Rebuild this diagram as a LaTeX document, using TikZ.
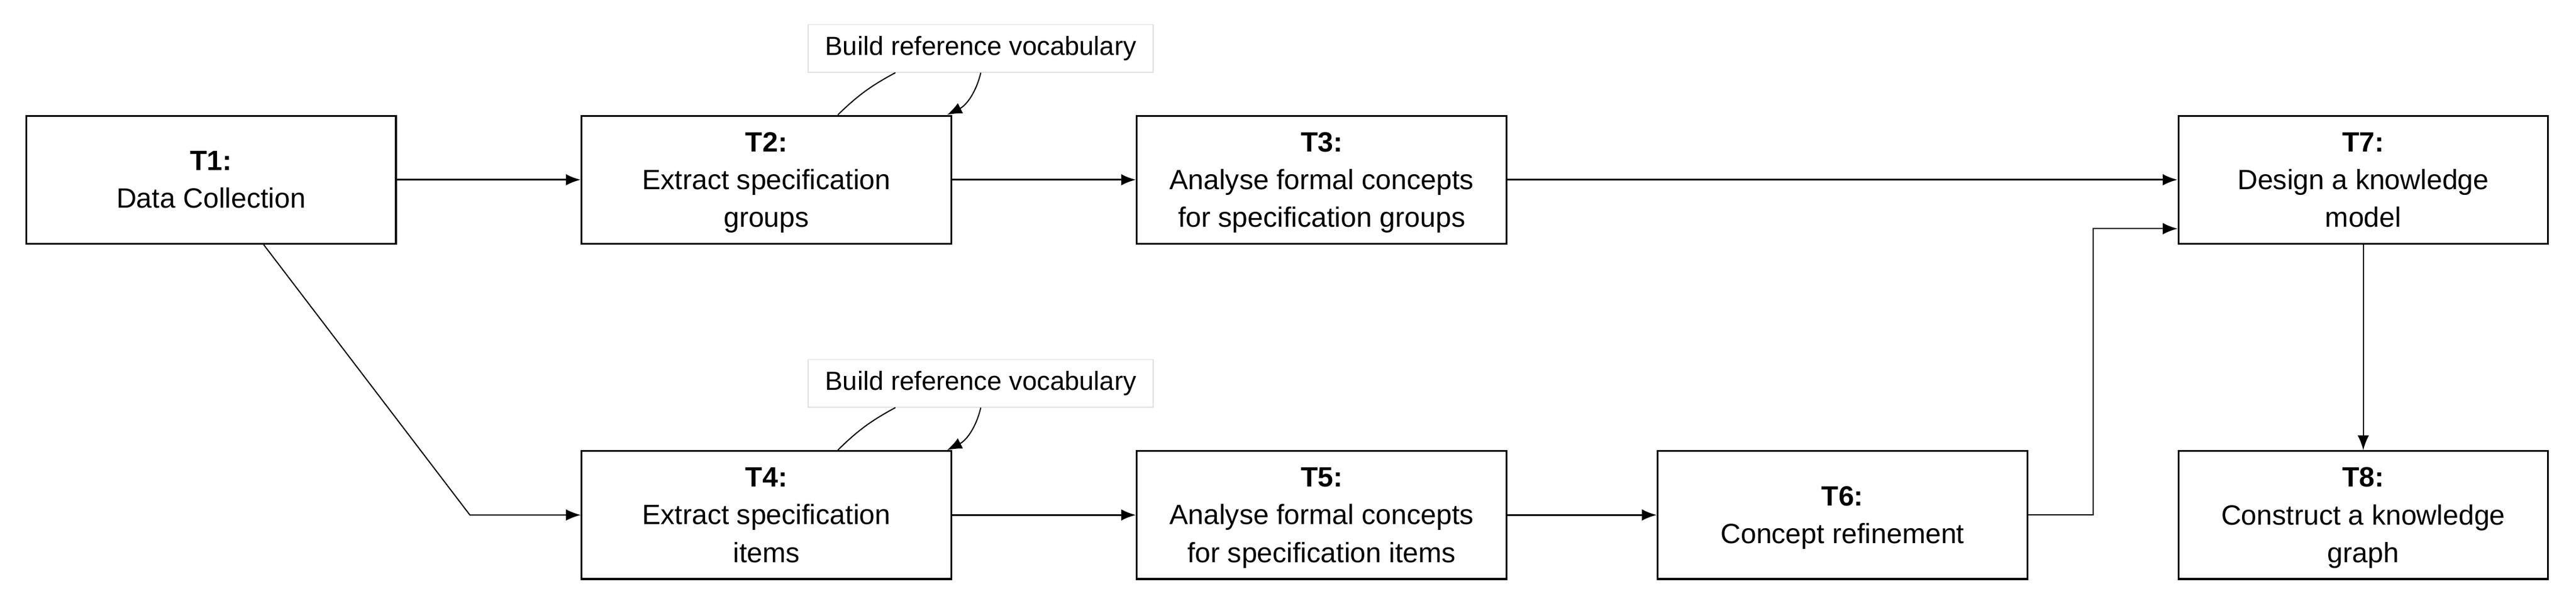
\documentclass[tikz,border=0pt]{standalone}
\usepackage{fontspec}
\setmainfont{Liberation Sans}
\usetikzlibrary{arrows.meta}
\tikzset{
  task/.style = {draw=black, line width=1.1pt, rectangle, align=center, minimum width=225pt, minimum height=78pt, inner sep=0pt, text depth=-3pt, font=\fontsize{17}{23}\selectfont},
  note/.style = {draw=black!12, line width=0.6pt, rectangle, inner sep=0pt, minimum width=210pt, minimum height=29pt, font=\fontsize{16}{18}\selectfont},
  flow/.style = {line width=1.1pt, -{Latex[length=9pt,width=7pt]}},
  link/.style = {line width=0.7pt, -{Latex[length=9pt,width=7pt]}},
}
\begin{document}
\begin{tikzpicture}[x=1pt,y=-1pt]
\useasboundingbox (0,0) rectangle (1568,366);
% top row
\node [task] (T1) at (128.5,109.5) {\textbf{T1:}\\Data Collection};
\node [task] (T2) at (466.5,109.5) {\textbf{T2:}\\Extract specification\\groups};
\node [task] (T3) at (804.5,109.5) {\textbf{T3:}\\Analyse formal concepts\\for specification groups};
\node [task] (T7) at (1438.5,109.5) {\textbf{T7:}\\Design a knowledge\\model};
% bottom row
\node [task] (T4) at (466.5,313.7) {\textbf{T4:}\\Extract specification\\items};
\node [task] (T5) at (804.5,313.7) {\textbf{T5:}\\Analyse formal concepts\\for specification items};
\node [task] (T6) at (1121.5,313.7) {\textbf{T6:}\\Concept refinement};
\node [task] (T8) at (1438.5,313.7) {\textbf{T8:}\\Construct a knowledge\\graph};
% self loops
\node [note] (V2) at (597,29.5) {Build reference vocabulary};
\node [note] (V4) at (597,233.5) {Build reference vocabulary};
\coordinate (T1d) at (286,313.7);
\coordinate (T6r) at (1274,313.7);
\coordinate (T7l) at (1274,139.3);

\draw [flow] (T1) -- (T2);
\draw [flow] (T2) -- (T3);
\draw [flow] (T3) -- (T7);
\draw [flow] (T4) -- (T5);
\draw [flow] (T5) -- (T6);
\draw [link] ([xshift=32pt]T1.south) -- (T1d) -- (T4.west);
\draw [link] (T6.east) -- (T6r) -- (T7l) -- (T7.west |- T7l);
\draw [link] (T7.south) -- (T8.north);
\foreach \t/\v in {T2/V2, T4/V4} {
  \draw [line width=0.7pt] ([xshift=43.5pt]\t.north) to[bend left=8] ([xshift=-52pt]\v.south);
  \draw [link] (\v.south) to[bend left=25] ([xshift=110pt]\t.north);
}
\end{tikzpicture}
\end{document}
